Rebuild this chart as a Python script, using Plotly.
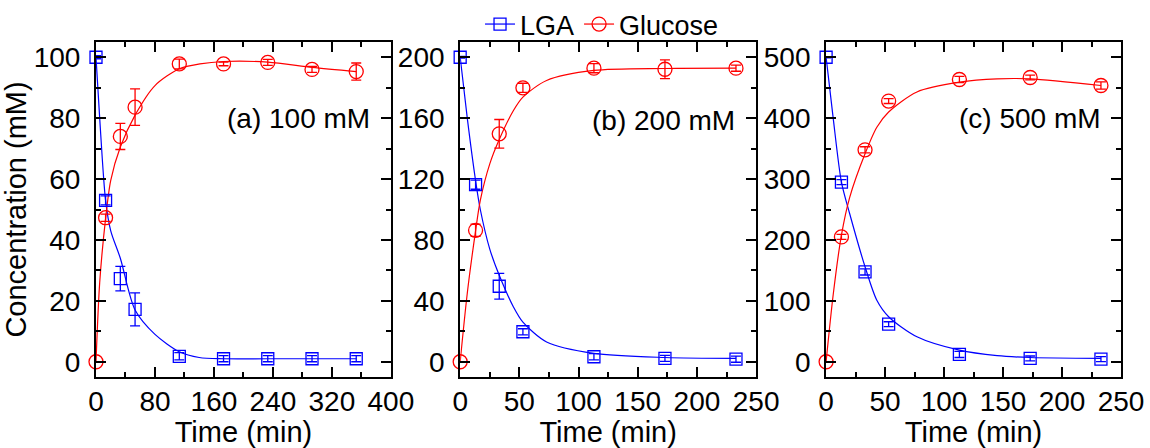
import plotly.graph_objects as go

# ---------- data ----------
t_a = [0, 13, 33, 53, 113, 173, 233, 293, 353]
lga_a = [100, 53, 27.3, 17.2, 1.8, 1.0, 1.0, 1.0, 1.0]
lga_a_err = [0.5, 1.5, 4.0, 5.4, 1.2, 1.0, 1.0, 1.0, 1.0]
glu_a = [0, 47.3, 74.0, 83.6, 97.8, 97.8, 98.3, 96.0, 95.3]
glu_a_err = [0, 1.2, 4.3, 6.0, 1.6, 0.6, 1.0, 1.0, 2.8]

t_bc = [0, 13, 33, 53, 113, 173, 233]
lga_b = [200, 116.3, 49.6, 19.7, 3.3, 2.2, 1.7]
lga_b_err = [0.5, 3.0, 8.4, 2.0, 2.0, 2.0, 2.0]
glu_b = [0, 86.3, 149.7, 179.9, 192.8, 192.1, 192.8]
glu_b_err = [0, 4.0, 9.4, 3.0, 3.0, 6.2, 2.0]

lga_c = [500, 295, 147.5, 61.7, 12, 5.5, 4.4]
lga_c_err = [1, 4, 5, 4, 5, 4, 4]
glu_c = [0, 205, 348, 428, 463.4, 466.7, 453.6]
glu_c_err = [0, 4, 5, 4, 5, 4, 6]

# fitted curves
fit_a_t = [0, 5, 13, 20, 33, 53, 80, 113, 140, 173, 233, 293, 353]
fit_a_lga = [100, 80, 53, 43, 34, 17, 9, 3.3, 1.4, 1.0, 1.0, 1.0, 1.0]
fit_a_glu_t = [0, 5, 13, 20, 33, 53, 80, 113, 141, 173, 233, 293, 353]
fit_a_glu = [0, 26, 47, 59.6, 70.5, 81, 90.7, 96.2, 97.8, 98.6, 98.4, 96.7, 95.3]

fit_bc_t = [0, 6, 13, 17, 25, 33, 45, 53, 73, 113, 173, 233]
fit_b_lga = [200, 160, 119, 100, 74, 56.8, 36, 26, 13, 5.5, 2.8, 2.2]
fit_b_glu = [0, 45, 86, 106, 130, 146, 165, 173.8, 184.7, 191.3, 192.6, 192.8]
fit_c_t = [0, 6, 13, 20, 33, 43, 53, 77, 113, 145, 173, 233]
fit_c_lga = [500, 400, 295, 243, 156, 101, 74, 41, 19, 10, 7, 5.5]
fit_c_glu = [0, 110, 208, 270, 341.5, 385, 410, 443, 459, 464.5, 464.5, 453.6]

labels = ["(a) 100 mM", "(b) 200 mM", "(c) 500 mM"]

BLUE = "#0000ff"
RED = "#ff0000"
FONT = "Liberation Sans, Arial, sans-serif"
TICK_FS = 28
TITLE_FS = 29

fig = go.Figure()

panels = [
    (t_a, lga_a, lga_a_err, glu_a, glu_a_err, fit_a_t, fit_a_lga, fit_a_glu_t, fit_a_glu),
    (t_bc, lga_b, lga_b_err, glu_b, glu_b_err, fit_bc_t, fit_b_lga, fit_bc_t, fit_b_glu),
    (t_bc, lga_c, lga_c_err, glu_c, glu_c_err, fit_c_t, fit_c_lga, fit_c_t, fit_c_glu),
]

for i, (t, lg, lge, gl, gle, ft1, fl, ft2, fg) in enumerate(panels):
    xa = "x" if i == 0 else f"x{i+1}"
    ya = "y" if i == 0 else f"y{i+1}"
    fig.add_trace(go.Scatter(x=ft1, y=fl, mode="lines", line=dict(color=BLUE, width=1.2, shape="spline", smoothing=0.8),
                             xaxis=xa, yaxis=ya, showlegend=False, hoverinfo="skip"))
    fig.add_trace(go.Scatter(x=ft2, y=fg, mode="lines", line=dict(color=RED, width=1.2, shape="spline", smoothing=0.8),
                             xaxis=xa, yaxis=ya, showlegend=False, hoverinfo="skip"))
    fig.add_trace(go.Scatter(x=t, y=lg, mode="markers",
                             marker=dict(symbol="square-open", size=12, color=BLUE, line=dict(width=1.3, color=BLUE)),
                             error_y=dict(type="data", array=lge, color=BLUE, thickness=1.3, width=5),
                             xaxis=xa, yaxis=ya, showlegend=False, cliponaxis=False))
    fig.add_trace(go.Scatter(x=t, y=gl, mode="markers",
                             marker=dict(symbol="circle-open", size=14, color=RED, line=dict(width=1.3, color=RED)),
                             error_y=dict(type="data", array=gle, color=RED, thickness=1.3, width=5),
                             xaxis=xa, yaxis=ya, showlegend=False, cliponaxis=False))

# legend-only entries
fig.add_trace(go.Scatter(x=[None], y=[None], mode="lines+markers", name="LGA",
                         line=dict(color=BLUE, width=1.2),
                         marker=dict(symbol="square-open", size=12, color=BLUE, line=dict(width=1.3, color=BLUE))))
fig.add_trace(go.Scatter(x=[None], y=[None], mode="lines+markers", name="Glucose",
                         line=dict(color=RED, width=1.2),
                         marker=dict(symbol="circle-open", size=14, color=RED, line=dict(width=1.3, color=RED))))

axis_common = dict(
    showline=True, linecolor="black", linewidth=2, mirror="allticks",
    ticks="inside", ticklen=10, tickwidth=2, tickcolor="black",
    showgrid=False, zeroline=False,
    tickfont=dict(family=FONT, size=TICK_FS, color="black"),
)

domains = [[0.0, 0.2877], [0.3553, 0.644], [0.7123, 1.0]]
xranges = [[0, 400], [0, 250], [0, 250]]
xdt = [80, 50, 50]
yranges = [[-5, 105], [-10, 210], [-25, 525]]
ydt = [20, 40, 100]

for i in range(3):
    sfx = "" if i == 0 else str(i + 1)
    fig.update_layout(**{
        f"xaxis{sfx}": dict(axis_common, domain=domains[i], range=xranges[i], dtick=xdt[i], tick0=0,
                            anchor=f"y{sfx}",
                            minor=dict(ticks="inside", ticklen=5, tickwidth=2, tickcolor="black", dtick=xdt[i] / 2),
                            title=dict(text="Time (min)", font=dict(family=FONT, size=TITLE_FS, color="black"), standoff=4),
                            ticklabelstandoff=-2),
        f"yaxis{sfx}": dict(axis_common, domain=[0, 1], range=yranges[i], dtick=ydt[i], tick0=0,
                            anchor=f"x{sfx}",
                            minor=dict(ticks="inside", ticklen=5, tickwidth=2, tickcolor="black", dtick=ydt[i] / 2),
                            ticklabelstandoff=8),
    })

fig.update_layout(yaxis_title=dict(text="Concentration (mM)", font=dict(family=FONT, size=TITLE_FS, color="black"), standoff=2))

ann_pos = [(375, 80), (234, 158.5), (235, 399.5)]
for i, (ax, ay) in enumerate(ann_pos):
    sfx = "" if i == 0 else str(i + 1)
    fig.add_annotation(x=ax, y=ay, xref=f"x{sfx}", yref=f"y{sfx}", text=labels[i], showarrow=False,
                       xanchor="right", yanchor="middle", font=dict(family=FONT, size=TICK_FS, color="black"))

fig.update_layout(
    width=1150, height=448,
    margin=dict(l=96, r=29, t=42, b=71, autoexpand=False),
    paper_bgcolor="white", plot_bgcolor="white",
    font=dict(family=FONT, color="black"),
    legend=dict(orientation="h", x=0.5235, xanchor="center", xref="container",
                y=1.0, yanchor="top", yref="container",
                font=dict(family=FONT, size=27, color="black"), itemwidth=30,
                bgcolor="rgba(0,0,0,0)", tracegroupgap=0),
)

fig.write_html("out.html")
